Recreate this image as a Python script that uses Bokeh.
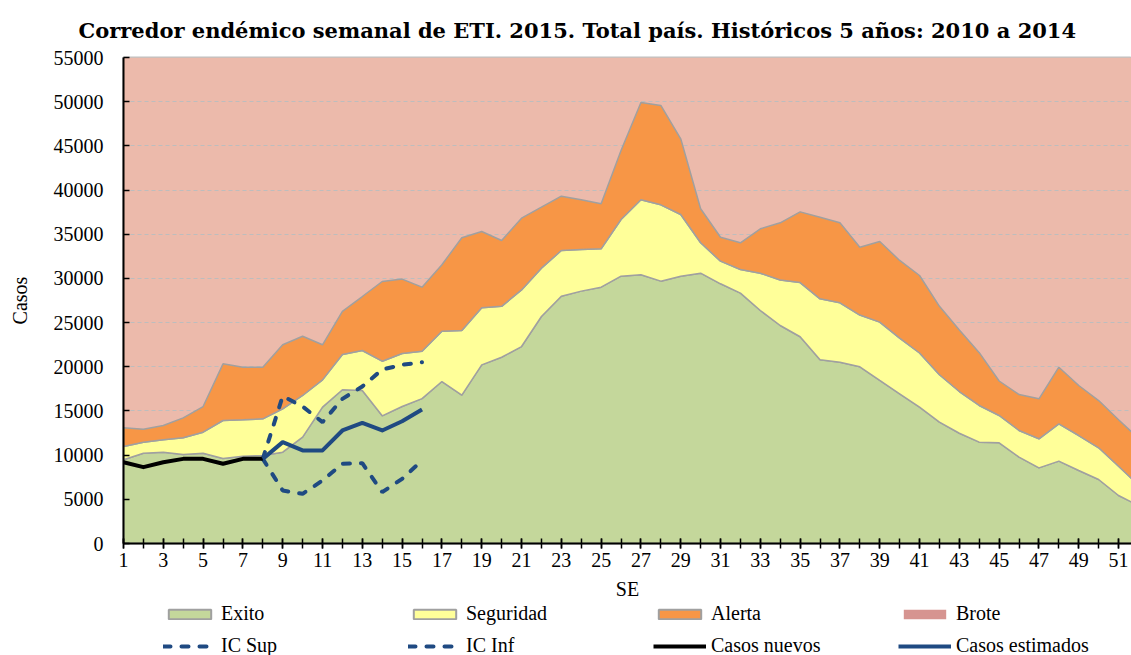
from bokeh.plotting import figure
from bokeh.layouts import column
from bokeh.models import FixedTicker, Legend, LegendItem, Range1d
from bokeh.embed import file_html
from bokeh.resources import INLINE

# ---- data -------------------------------------------------------------
weeks = list(range(1, 53))
exito = [9470, 10220, 10330, 10070, 10220, 9620, 9880, 9960, 10330, 12030,
         15430, 17400, 17320, 14450, 15500, 16400, 18330, 16800, 20220, 21080,
         22290, 25690, 27990, 28560, 29010, 30250, 30410, 29690, 30250, 30590,
         29390, 28330, 26370, 24670, 23400, 20790, 20520, 20000, 18450, 16940,
         15430, 13730, 12480, 11470, 11390, 9770, 8560, 9320, 8260, 7240,
         5430, 4300]
seguridad = [10980, 11470, 11730, 11960, 12600, 13920, 14000, 14110, 15240, 16750,
             18520, 21390, 21840, 20630, 21500, 21760, 24030, 24100, 26670, 26840,
             28700, 31160, 33160, 33270, 33350, 36670, 38900, 38330, 37230, 34030,
             31950, 31010, 30590, 29820, 29530, 27690, 27240, 25850, 25050, 23250,
             21560, 19100, 17200, 15620, 14490, 12790, 11850, 13540, 12220, 10830,
             8750, 6600]
alerta = [13090, 12940, 13350, 14220, 15500, 20330, 19950, 19950, 22490, 23460,
          22490, 26280, 27950, 29650, 29920, 29010, 31550, 34600, 35310, 34290,
          36820, 38060, 39310, 38900, 38440, 44480, 49910, 49570, 45800, 37880,
          34660, 34030, 35610, 36290, 37530, 36930, 36290, 33530, 34180, 32030,
          30330, 26840, 24170, 21600, 18390, 16860, 16370, 19950, 17880, 16180,
          14000, 11900]
brote_top = 55000

nuevos_weeks = list(range(1, 9))
casos_nuevos = [9200, 8640, 9200, 9580, 9580, 9020, 9580, 9580]

est_weeks = list(range(8, 17))
casos_estimados = [9580, 11470, 10530, 10530, 12790, 13650, 12790, 13840, 15160]
ic_sup = [9580, 16670, 15500, 13730, 16370, 17770, 19690, 20220, 20520]
ic_inf = [9580, 6000, 5620, 7130, 9020, 9090, 5810, 7320, 9390]

y_ticks = list(range(0, 55001, 5000))
x_label_ticks = list(range(1, 53, 2))

legend_labels = ["Exito", "Seguridad", "Alerta", "Brote",
                 "IC Sup", "IC Inf", "Casos nuevos", "Casos estimados"]

TITLE = "Corredor endémico semanal de ETI. 2015. Total país. Históricos 5 años: 2010 a 2014"
FONT = "Liberation Serif"

C_EXITO, C_SEG, C_ALERTA, C_BROTE, C_BROTE_KEY = "#C4D79B", "#FFFF99", "#F79646", "#ECBAAB", "#D69490"
GRAY = "#A0A0A0"
BLUE = "#1F4A82"
DASH = dict(line_color=BLUE, line_width=4, line_dash="7 11", line_cap="round")
SOLID_BLACK = dict(line_color="black", line_width=4, line_join="round")
SOLID_BLUE = dict(line_color=BLUE, line_width=4, line_join="round")

xs = weeks + weeks[::-1]
exito_poly = exito + [0] * len(weeks)
seg_poly = seguridad + exito[::-1]
alerta_poly = alerta + seguridad[::-1]

# ---- main figure ------------------------------------------------------
p = figure(frame_width=1008, frame_height=486,
           x_range=Range1d(1, 51.65), y_range=Range1d(0, 55000),
           output_backend="svg", toolbar_location=None,
           min_border_left=123, min_border_right=0, min_border_top=57,
           min_border_bottom=0, title=TITLE)

p.title.text_font = "DejaVu Serif"
p.title.text_font_style = "bold"
p.title.text_font_size = "21px"
p.title.align = "left"
p.title.offset = -45
p.title.standoff = 30
p.title.text_color = "black"

p.background_fill_color = C_BROTE
p.border_fill_color = "white"
p.outline_line_color = "#C0C0C0"
p.outline_line_width = 2

p.varea(x=weeks, y1=alerta, y2=brote_top, fill_color=C_BROTE, level="image")
p.patch(xs, exito_poly, fill_color=C_EXITO, line_color=GRAY, line_width=1.5)
p.patch(xs, seg_poly, fill_color=C_SEG, line_color=GRAY, line_width=1.5)
p.patch(xs, alerta_poly, fill_color=C_ALERTA, line_color=GRAY, line_width=1.5)

p.line(est_weeks, ic_sup, **DASH)
p.line(est_weeks, ic_inf, **DASH)
p.line(nuevos_weeks, casos_nuevos, **SOLID_BLACK)
p.line(est_weeks, casos_estimados, **SOLID_BLUE)

p.xgrid.visible = False
p.ygrid.grid_line_color = "#BDBDBD"
p.ygrid.grid_line_dash = "4 3"
p.ygrid.grid_line_width = 1.2

p.yaxis.ticker = FixedTicker(ticks=y_ticks)
p.yaxis.axis_label = "Casos"
p.yaxis.major_tick_in = 6
p.yaxis.major_tick_out = 0
p.yaxis.major_label_standoff = 20
p.yaxis.axis_label_standoff = 20

p.xaxis.ticker = FixedTicker(ticks=x_label_ticks, minor_ticks=weeks)
p.xaxis.axis_label = "SE"
p.xaxis.major_tick_in = 5
p.xaxis.major_tick_out = 5
p.xaxis.minor_tick_in = 5
p.xaxis.minor_tick_out = 5
p.xaxis.major_label_standoff = 4
p.xaxis.axis_label_standoff = 8

for ax in (p.xaxis[0], p.yaxis[0]):
    ax.axis_line_color = "black"
    ax.axis_line_width = 2
    ax.major_tick_line_color = "black"
    ax.major_tick_line_width = 1.5
    ax.minor_tick_line_color = "black" if ax is p.xaxis[0] else None
    ax.minor_tick_line_width = 1.5
    ax.major_label_text_font = FONT
    ax.major_label_text_font_size = "20px"
    ax.major_label_text_color = "black"
    ax.axis_label_text_font = FONT
    ax.axis_label_text_font_size = "20px"
    ax.axis_label_text_font_style = "normal"
    ax.axis_label_text_color = "black"

# ---- legend strip (separate figure below the chart) ------------------
# same series drawn again, but outside this strip's visible range, so only
# their legend keys show.
leg_fig = figure(width=1131, height=55, x_range=Range1d(-1, 0), y_range=Range1d(-1, 0),
                 x_axis_type=None, y_axis_type=None,
                 output_backend="svg", toolbar_location=None,
                 min_border_left=123, min_border_right=0, min_border_top=0,
                 min_border_bottom=0)
leg_fig.outline_line_color = None
leg_fig.grid.visible = False
leg_fig.background_fill_color = "white"

k_exito = leg_fig.patch(xs, exito_poly, fill_color=C_EXITO, line_color=GRAY, line_width=2)
k_seg = leg_fig.patch(xs, seg_poly, fill_color=C_SEG, line_color=GRAY, line_width=2)
k_alerta = leg_fig.patch(xs, alerta_poly, fill_color=C_ALERTA, line_color=GRAY, line_width=2)
k_brote = leg_fig.varea(x=weeks, y1=alerta, y2=brote_top, fill_color=C_BROTE_KEY)
k_sup = leg_fig.line(est_weeks, ic_sup, **DASH)
k_inf = leg_fig.line(est_weeks, ic_inf, **DASH)
k_nuevos = leg_fig.line(nuevos_weeks, casos_nuevos, **SOLID_BLACK)
k_est = leg_fig.line(est_weeks, casos_estimados, **SOLID_BLUE)
keys = [k_exito, k_seg, k_alerta, k_brote, k_sup, k_inf, k_nuevos, k_est]

legend = Legend(items=[LegendItem(label=lab, renderers=[r])
                       for lab, r in zip(legend_labels, keys)],
                orientation="horizontal", ncols=4)
legend.label_text_font = FONT
legend.label_text_font_size = "20px"
legend.label_text_color = "black"
legend.glyph_width = 53
legend.glyph_height = 12
legend.label_standoff = 5
legend.label_width = 178
legend.label_height = 20
legend.spacing = 9
legend.padding = 0
legend.margin = 0
legend.border_line_color = None
legend.background_fill_alpha = 0
legend.location = (40, 0)
leg_fig.add_layout(legend)

layout = column(p, leg_fig, spacing=0)
open("out.html", "w").write(file_html(layout, INLINE))
